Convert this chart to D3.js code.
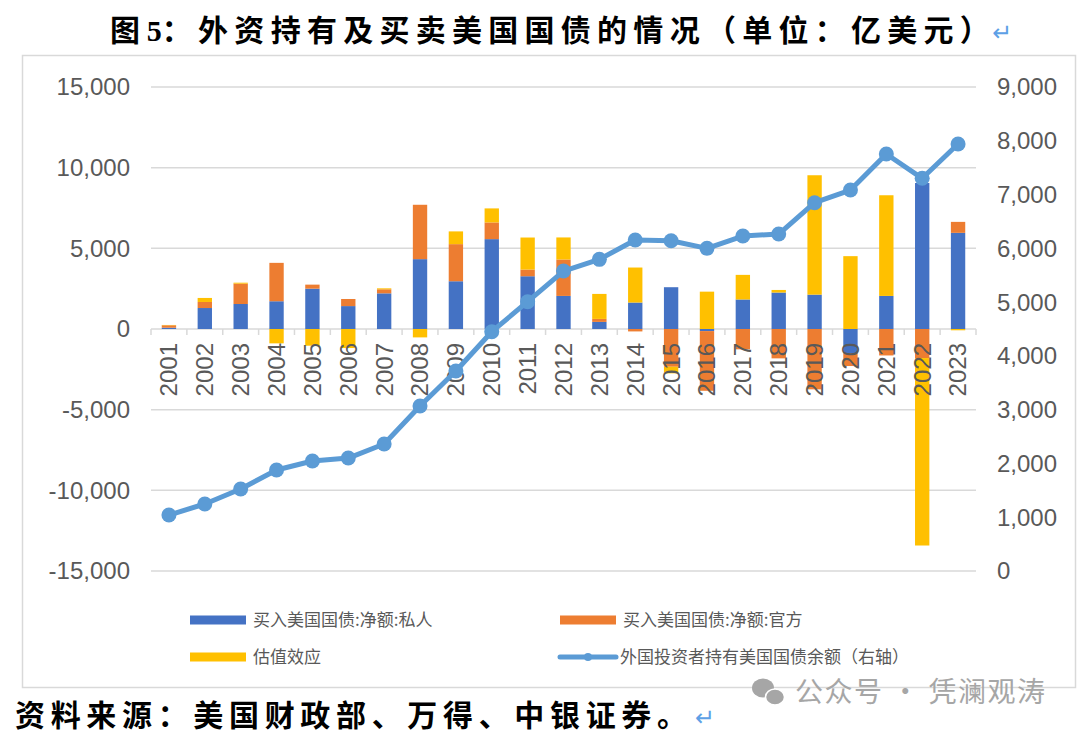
<!DOCTYPE html>
<html>
<head>
<meta charset="utf-8">
<script src="https://cdn.jsdelivr.net/npm/d3@7"></script>
<style>
  html, body { margin: 0; padding: 0; background: #fff; }
  svg { display: block; }
</style>
</head>
<body>
<svg id="chart" width="1080" height="738"></svg>
<script>
// data (亿美元)
var years = ['2001','2002','2003','2004','2005','2006','2007','2008','2009','2010','2011','2012',
  '2013','2014','2015','2016','2017','2018','2019','2020','2021','2022','2023'];
var privateNet = [80, 1300, 1550, 1720, 2500, 1420, 2210, 4330, 2960, 5570, 3270, 2050,
  440, 1640, 2590, -130, 1830, 2260, 2130, -1510, 2050, 9050, 5960];
var officialNet = [150, 375, 1260, 2380, 250, 440, 250, 3370, 2300, 1035, 415, 2260,
  185, -150, -2340, -3700, -1260, -1820, -3740, -785, -1640, -1800, 680];
var valuation = [20, 250, 60, -890, -1035, -1180, 60, -520, 790, 870, 1985, 1365,
  1550, 2170, -410, 2315, 1525, 160, 7400, 4515, 6240, -11620, -80];
var holdings = [1040, 1246, 1525, 1878, 2045, 2100, 2361, 3068, 3720, 4450, 5008, 5578,
  5795, 6155, 6142, 6000, 6229, 6266, 6848, 7084, 7754, 7302, 7940];
var leftTicks = [-15000, -10000, -5000, 0, 5000, 10000, 15000];
var rightTicks = [0, 1000, 2000, 3000, 4000, 5000, 6000, 7000, 8000, 9000];

var seriesNames = ['买入美国国债:净额:私人', '买入美国国债:净额:官方', '估值效应'];
var lineName = '外国投资者持有美国国债余额（右轴）';
var colors = ['#4472C4', '#ED7D31', '#FFC000'];
var lineColor = '#5B9BD5';

var svg = d3.select('#chart');
var latin = 'Liberation Sans, Arial, sans-serif';
var cjk = '"Noto Sans CJK SC", sans-serif';

// outer frame
svg.append('rect')
  .attr('x', 22.5).attr('y', 55.5).attr('width', 1053).attr('height', 632)
  .attr('fill', 'none').attr('stroke', '#D9D9D9').attr('stroke-width', 1.5);

// scales
var x = d3.scaleBand().domain(years).range([151, 976]).paddingInner(0.6).paddingOuter(0.3);
var xStep = d3.scaleBand().domain(years).range([151, 976]);
var yL = d3.scaleLinear().domain([-15000, 15000]).range([571, 87]);
var yR = d3.scaleLinear().domain([0, 9000]).range([571, 87]);

// gridlines
svg.append('g').selectAll('line').data(leftTicks).join('line')
  .attr('x1', 151).attr('x2', 976)
  .attr('y1', d => yL(d)).attr('y2', d => yL(d))
  .attr('stroke', '#D9D9D9').attr('stroke-width', 1.5);

// left axis labels
svg.append('g').selectAll('text').data(leftTicks).join('text')
  .attr('x', 130).attr('y', d => yL(d)).attr('dy', '0.35em')
  .attr('text-anchor', 'end')
  .attr('font-family', latin).attr('font-size', 24).attr('fill', '#595959')
  .text(d => d3.format(',')(d).replace('−', '-'));

// right axis labels
svg.append('g').selectAll('text').data(rightTicks).join('text')
  .attr('x', 997).attr('y', d => yR(d)).attr('dy', '0.35em')
  .attr('text-anchor', 'start')
  .attr('font-family', latin).attr('font-size', 24).attr('fill', '#595959')
  .text(d => d3.format(',')(d));

// stacked bars (positives and negatives stacked separately)
var table = years.map((yr, i) => ({ year: yr, s0: privateNet[i], s1: officialNet[i], s2: valuation[i] }));
var stacked = d3.stack().keys(['s0', 's1', 's2']).offset(d3.stackOffsetDiverging)(table);

svg.append('g').selectAll('g').data(stacked).join('g')
  .attr('fill', (d, i) => colors[i])
  .selectAll('rect').data(d => d).join('rect')
  .attr('x', d => x(d.data.year))
  .attr('width', x.bandwidth())
  .attr('y', d => yL(Math.max(d[0], d[1])))
  .attr('height', d => Math.abs(yL(d[0]) - yL(d[1])));

// category axis ticks
var tickXs = years.map(yr => xStep(yr)).concat([976]);
svg.append('g').selectAll('line').data(tickXs).join('line')
  .attr('x1', d => d).attr('x2', d => d)
  .attr('y1', yL(0)).attr('y2', yL(0) + 6)
  .attr('stroke', '#D9D9D9').attr('stroke-width', 1.5);

// year labels (drawn over bars, as in the original)
svg.append('g').selectAll('text').data(years).join('text')
  .attr('transform', d => 'translate(' + (x(d) + x.bandwidth() / 2) + ',' + (yL(0) + 14) + ') rotate(-90)')
  .attr('text-anchor', 'end')
  .attr('dy', '0.35em')
  .attr('font-family', latin).attr('font-size', 24).attr('fill', '#595959')
  .text(d => d);

// holdings line on right axis
var line = d3.line()
  .x((d, i) => x(years[i]) + x.bandwidth() / 2)
  .y(d => yR(d));
svg.append('path').datum(holdings)
  .attr('d', line)
  .attr('fill', 'none').attr('stroke', lineColor).attr('stroke-width', 5)
  .attr('stroke-linejoin', 'round');
svg.append('g').selectAll('circle').data(holdings).join('circle')
  .attr('cx', (d, i) => x(years[i]) + x.bandwidth() / 2)
  .attr('cy', d => yR(d))
  .attr('r', 7.5)
  .attr('fill', lineColor);

// legend
var legend = svg.append('g');
var legendItems = [
  { name: seriesNames[0], color: colors[0], x: 190, y: 620, type: 'bar' },
  { name: seriesNames[1], color: colors[1], x: 560, y: 620, type: 'bar' },
  { name: seriesNames[2], color: colors[2], x: 190, y: 657, type: 'bar' },
  { name: lineName, color: lineColor, x: 560, y: 657, type: 'line' }
];
legendItems.forEach(function(it) {
  if (it.type === 'bar') {
    legend.append('rect').attr('x', it.x).attr('y', it.y - 4.5)
      .attr('width', 56).attr('height', 9).attr('fill', it.color);
  } else {
    legend.append('line').attr('x1', it.x).attr('x2', it.x + 56)
      .attr('y1', it.y).attr('y2', it.y)
      .attr('stroke', it.color).attr('stroke-width', 5).attr('stroke-linecap', 'round');
    legend.append('circle').attr('cx', it.x + 28).attr('cy', it.y).attr('r', 4).attr('fill', it.color);
  }
  legend.append('text')
    .attr('x', it.type === 'bar' ? it.x + 63 : it.x + 60).attr('y', it.y).attr('dy', '0.35em')
    .attr('font-family', cjk).attr('font-size', 17).attr('fill', '#595959')
    .text(it.name);
});

// title
var title = svg.append('text')
  .attr('x', 110).attr('y', 30).attr('dy', '0.36em')
  .attr('font-family', cjk).attr('font-weight', 700).attr('font-size', 30).attr('fill', '#000');
title.append('tspan').text('图 ');
title.append('tspan').attr('font-family', 'Liberation Serif, serif').text('5');
title.append('tspan').attr('textLength', 828).attr('lengthAdjust', 'spacing')
  .text('：外资持有及买卖美国国债的情况（单位：亿美元）');
title.append('tspan').attr('dx', -4).attr('font-family', 'DejaVu Sans, sans-serif')
  .attr('font-weight', 400).attr('font-size', 24).attr('fill', '#5DA0E6').text('↵');

// source line
var src = svg.append('text')
  .attr('x', 15).attr('y', 715).attr('dy', '0.36em')
  .attr('font-family', cjk).attr('font-weight', 700).attr('font-size', 30).attr('fill', '#000');
src.append('tspan').attr('textLength', 672).attr('lengthAdjust', 'spacing')
  .text('资料来源：美国财政部、万得、中银证券。');
src.append('tspan').attr('dx', 2).attr('font-family', 'DejaVu Sans, sans-serif')
  .attr('font-weight', 400).attr('font-size', 24).attr('fill', '#5DA0E6').text('↵');

// watermark
var wm = svg.append('g').attr('fill', '#A6A6A6');
wm.append('ellipse').attr('cx', 763).attr('cy', 688).attr('rx', 11).attr('ry', 9.5);
wm.append('ellipse').attr('cx', 775).attr('cy', 697).attr('rx', 9.5).attr('ry', 8)
  .attr('stroke', '#fff').attr('stroke-width', 1.5);
svg.append('text')
  .attr('x', 795).attr('y', 692).attr('dy', '0.36em')
  .attr('font-family', cjk).attr('font-size', 28).attr('fill', '#A6A6A6')
  .attr('textLength', 250).attr('lengthAdjust', 'spacing')
  .text('公众号 · 凭澜观涛');
</script>
</body>
</html>
